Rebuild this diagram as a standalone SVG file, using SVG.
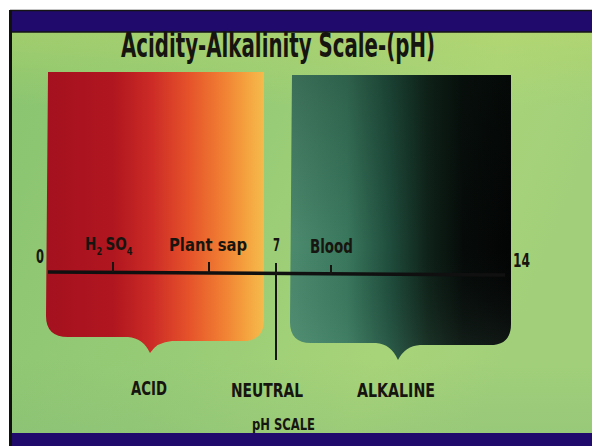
<svg xmlns="http://www.w3.org/2000/svg" width="592" height="446" viewBox="0 0 592 446">
  <defs>
    <linearGradient id="bg" x1="0" y1="0" x2="1" y2="0.3">
      <stop offset="0" stop-color="#89c470"/>
      <stop offset="0.45" stop-color="#97cb76"/>
      <stop offset="0.8" stop-color="#a8d479"/>
      <stop offset="1" stop-color="#a2d07a"/>
    </linearGradient>
    <linearGradient id="bgTop" x1="0" y1="0" x2="0" y2="1">
      <stop offset="0" stop-color="#bcd86a" stop-opacity="0.6"/>
      <stop offset="0.22" stop-color="#bcd86a" stop-opacity="0"/>
      <stop offset="0.8" stop-color="#80b878" stop-opacity="0"/>
      <stop offset="1" stop-color="#80b878" stop-opacity="0.35"/>
    </linearGradient>
    <linearGradient id="acidGrad" x1="48" y1="0" x2="264" y2="0" gradientUnits="userSpaceOnUse">
      <stop offset="0" stop-color="#a5111f"/>
      <stop offset="0.3" stop-color="#b0161f"/>
      <stop offset="0.48" stop-color="#cc2b26"/>
      <stop offset="0.65" stop-color="#e5522a"/>
      <stop offset="0.8" stop-color="#f07c32"/>
      <stop offset="0.93" stop-color="#f5a640"/>
      <stop offset="1" stop-color="#f4bb4c"/>
    </linearGradient>
    <linearGradient id="alkGrad" x1="292" y1="0" x2="511" y2="0" gradientUnits="userSpaceOnUse">
      <stop offset="0" stop-color="#4c8a6e"/>
      <stop offset="0.25" stop-color="#3a785e"/>
      <stop offset="0.45" stop-color="#1f4c3c"/>
      <stop offset="0.62" stop-color="#0f2219"/>
      <stop offset="0.78" stop-color="#060b09"/>
      <stop offset="1" stop-color="#030404"/>
    </linearGradient>
    <linearGradient id="alkShade" x1="0" y1="0" x2="0" y2="1">
      <stop offset="0" stop-color="#0a1a12" stop-opacity="0.25"/>
      <stop offset="0.6" stop-color="#0a1a12" stop-opacity="0"/>
      <stop offset="1" stop-color="#8fd0b0" stop-opacity="0.12"/>
    </linearGradient>
    <style>
      .lbl { font-family: "DejaVu Sans Condensed", "Liberation Sans", sans-serif; font-weight: bold; fill: #17150f; }
      .tick { stroke: #17150f; stroke-width: 2; fill: none; }
      .band { fill: #200a6c; }
    </style>
  </defs>

  <!-- page -->
  <rect x="0" y="0" width="592" height="446" fill="#ffffff"/>
  <rect x="10" y="10" width="582" height="436" fill="url(#bg)"/>
  <rect x="10" y="10" width="582" height="436" fill="url(#bgTop)"/>

  <!-- bands and frame -->
  <rect class="band" x="10" y="10" width="582" height="22"/>
  <line x1="10" y1="10.5" x2="592" y2="10.5" stroke="#151515" stroke-width="1.5"/>
  <line x1="10" y1="32" x2="592" y2="32" stroke="#151515" stroke-width="1.5"/>
  <rect class="band" x="12" y="433" width="580" height="13"/>
  <rect x="9" y="10" width="3" height="436" fill="#101010"/>

  <!-- title -->
  <text class="lbl" x="121" y="57" font-size="33" textLength="314" lengthAdjust="spacingAndGlyphs">Acidity-Alkalinity  Scale-(pH)</text>

  <!-- acid panel -->
  <g id="acid-panel">
    <path d="M48,72 H264 V320 Q264,341 243,341 H172 Q157,342 150,353 Q143,338 128,337 H68 Q46,337 46,316 Z" fill="url(#acidGrad)"/>
  </g>

  <!-- alkaline panel -->
  <g id="alkaline-panel">
    <path d="M292,75 H511 V324 Q511,345 490,345 H420 Q405,346 398,360 Q391,344 376,343 H311 Q290,343 290,322 Z" fill="url(#alkGrad)"/>
    <path d="M292,75 H511 V324 Q511,345 490,345 H420 Q405,346 398,360 Q391,344 376,343 H311 Q290,343 290,322 Z" fill="url(#alkShade)"/>
  </g>

  <!-- scale -->
  <g id="scale">
    <line x1="48" y1="272" x2="505" y2="275" stroke="#111010" stroke-width="3.5"/>
    <line class="tick" x1="113" y1="262" x2="113" y2="272"/>
    <line class="tick" x1="209" y1="262" x2="209" y2="273"/>
    <line class="tick" x1="276" y1="263" x2="276" y2="360"/>
    <line class="tick" x1="331" y1="265" x2="331" y2="274"/>
  </g>

  <!-- scale labels -->
  <g id="scale-labels">
    <text class="lbl" x="36" y="263" font-size="19" textLength="8" lengthAdjust="spacingAndGlyphs">0</text>
    <text class="lbl" font-size="18" transform="translate(85,250) scale(0.84,1)">H<tspan font-size="11" dy="5">2</tspan><tspan dx="4" dy="-5">SO</tspan><tspan font-size="11" dy="5">4</tspan></text>
    <text class="lbl" x="169" y="251" font-size="18" textLength="78" lengthAdjust="spacingAndGlyphs">Plant sap</text>
    <text class="lbl" x="273" y="251" font-size="18" textLength="7" lengthAdjust="spacingAndGlyphs">7</text>
    <text class="lbl" x="310" y="253" font-size="19" textLength="43" lengthAdjust="spacingAndGlyphs">Blood</text>
    <text class="lbl" x="513" y="267" font-size="19" textLength="17" lengthAdjust="spacingAndGlyphs">14</text>
  </g>

  <!-- category labels -->
  <g id="category-labels">
    <text class="lbl" x="131" y="395" font-size="20" textLength="36" lengthAdjust="spacingAndGlyphs">ACID</text>
    <text class="lbl" x="231" y="397" font-size="20" textLength="72" lengthAdjust="spacingAndGlyphs">NEUTRAL</text>
    <text class="lbl" x="357" y="397" font-size="20" textLength="78" lengthAdjust="spacingAndGlyphs">ALKALINE</text>
    <text class="lbl" x="252" y="430" font-size="16" textLength="63" lengthAdjust="spacingAndGlyphs">pH SCALE</text>
  </g>
</svg>
